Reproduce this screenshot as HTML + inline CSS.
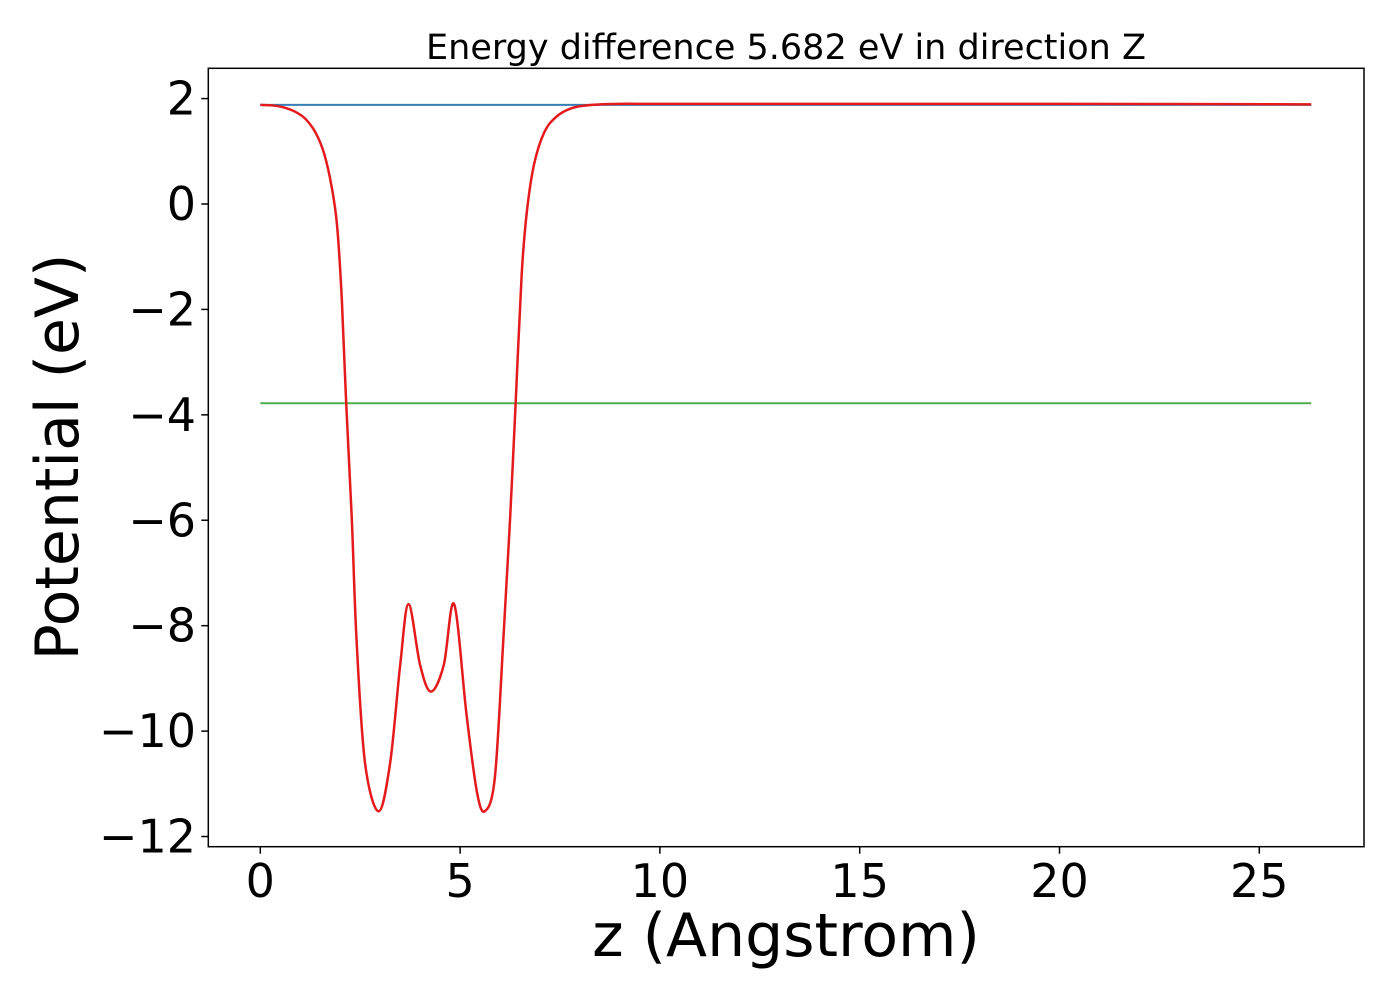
<!DOCTYPE html>
<html><head><meta charset="utf-8"><style>
body{margin:0;background:#fff}
svg{display:block;font-family:"DejaVu Sans","Liberation Sans",sans-serif}
</style></head><body>
<svg id="chart" width="1400" height="1000" xmlns="http://www.w3.org/2000/svg">
<rect width="1400" height="1000" fill="#fff"/>
<text x="786" y="59" font-size="35" text-anchor="middle">Energy difference 5.682 eV in direction Z</text>
<g id="plot"></g>
<rect x="208.3" y="68.3" width="1155.7" height="778.4" fill="none" stroke="#000" stroke-width="1.5"/>
<text x="786" y="956" font-size="60" text-anchor="middle">z (Angstrom)</text>
<text transform="translate(78,457) rotate(-90)" font-size="60" text-anchor="middle">Potential (eV)</text>
</svg>
<script>
const zValues=[0,0.3,0.6,0.9,1.15,1.4,1.6,1.78,1.92,2.04,2.15,2.29,2.41,2.62,2.96,3.25,3.5,3.71,4.0,4.27,4.59,4.85,5.16,5.42,5.62,5.87,6.08,6.25,6.39,6.54,6.67,6.85,7.1,7.4,7.8,8.3,9,10,15,20,26.3];
const potentialValues=[1.88,1.87,1.83,1.74,1.6,1.33,0.95,0.35,-0.4,-1.81,-3.78,-5.98,-8.29,-10.6,-11.52,-10.6,-8.75,-7.59,-8.75,-9.25,-8.75,-7.59,-9.68,-11.15,-11.52,-10.88,-8.29,-5.98,-3.78,-1.35,-0.15,0.75,1.35,1.65,1.82,1.88,1.9,1.9,1.9,1.9,1.89];
const vacuumLevel=[1.88];
const fermiLevel=[-3.78];
const zRange=[0,26.3];
const xTicks=[0,5,10,15,20,25];
const yTicks=[2,0,-2,-4,-6,-8,-10,-12];
const yTickLabels=["2","0","\u22122","\u22124","\u22126","\u22128","\u221210","\u221212"];
const sx=v=>260.3+v*39.96;
const sy=v=>204-v*52.71;
const NS="http://www.w3.org/2000/svg";
const g=document.getElementById('plot');
function mk(t,a){const e=document.createElementNS(NS,t);for(const k in a)e.setAttribute(k,a[k]);g.appendChild(e);return e;}
xTicks.forEach(t=>{
 const l=mk('line',{x1:sx(t),x2:sx(t),y1:846.7,y2:853.7,stroke:'#000','stroke-width':1.5});
 
 
 const tx=mk('text',{x:sx(t),y:897,'font-size':46,'text-anchor':'middle'});
 tx.textContent=t;
 
 
});
yTicks.forEach((t,i)=>{
 const l=mk('line',{x1:201.3,x2:208.3,y1:sy(t),y2:sy(t),stroke:'#000','stroke-width':1.5});
 
 
 const tx=mk('text',{x:196,y:sy(t)+16,'font-size':46,'text-anchor':'end'});
 tx.textContent=yTickLabels[i];
 
 
});
const P=zValues.map((z,i)=>[sx(z),sy(potentialValues[i])]);
let d=`M${P[0][0]},${P[0][1]}`;
for(let i=0;i<P.length-1;i++){
 const p0=P[i-1]||P[i],p1=P[i],p2=P[i+1],p3=P[i+2]||P[i+1];
 const c1=[p1[0]+(p2[0]-p0[0])/6,p1[1]+(p2[1]-p0[1])/6];
 const c2=[p2[0]-(p3[0]-p1[0])/6,p2[1]-(p3[1]-p1[1])/6];
 d+=` C${c1[0]},${c1[1]} ${c2[0]},${c2[1]} ${p2[0]},${p2[1]}`;
}
const vac=mk('line',{x1:sx(zRange[0]),x2:sx(zRange[1]),y1:sy(vacuumLevel[0]),y2:sy(vacuumLevel[0]),stroke:'#377eb8','stroke-width':2});


const fer=mk('line',{x1:sx(zRange[0]),x2:sx(zRange[1]),y1:sy(fermiLevel[0]),y2:sy(fermiLevel[0]),stroke:'#4daf4a','stroke-width':2});


const pot=mk('path',{d:d,fill:'none',stroke:'#e41a1c','stroke-width':2.5});


</script>
</body></html>
